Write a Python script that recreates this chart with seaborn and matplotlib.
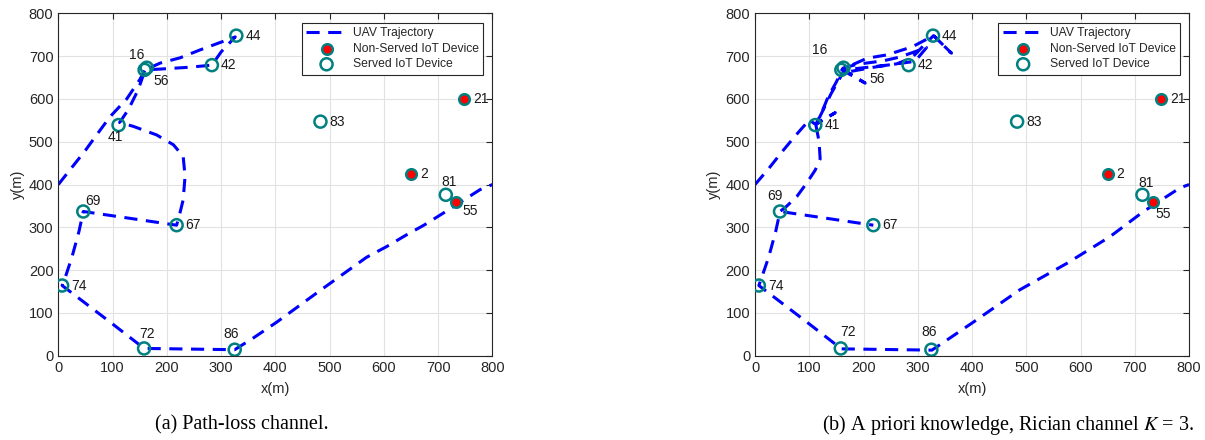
import numpy as np
import pandas as pd
import matplotlib
matplotlib.use("Agg")
import matplotlib.pyplot as plt
import seaborn as sns

# ---- IoT device positions (metres) ----
device_ids = [44, 42, 16, 56, 41, 83, 21, 2, 81, 55, 69, 67, 74, 72, 86]
device_x = [328, 283, 163, 159, 111, 483, 748, 650, 714, 733, 46, 218, 7, 158, 325]
device_y = [748, 679, 673, 668, 539, 547, 600, 424, 376, 360, 337, 305, 164, 17, 14]
device_served = [True, True, True, True, True, True, False, False, True, False,
                 True, True, True, True, True]

# ---- UAV trajectory, path-loss channel ----
traj_a_x = [0, 25, 50, 70, 95, 126, 150, 160, 190, 240, 283, 300, 326, 262, 224,
            188, 160, 147, 129, 113, 138, 181, 212, 230, 233, 233, 230, 224, 218,
            46, 38, 25, 12, 7, 95, 150, 158, 325, 360, 402, 482, 568, 605, 641,
            675, 709, 777, 800]
traj_a_y = [400, 440, 480, 515, 558, 600, 645, 668, 670, 674, 679, 710, 745, 715, 696,
            684, 668, 621, 575, 545, 536, 516, 493, 466, 427, 411, 364, 333, 305,
            337, 290, 230, 180, 164, 79, 25, 17, 14, 42, 78, 152, 230, 255, 282,
            306, 333, 388, 400]
traj_a_leg = [0] * len(traj_a_x)

# ---- UAV trajectory, a priori knowledge, Rician channel K = 3 ----
traj_b_x = [0, 25, 50, 75, 100, 112, 148, 113, 125, 135, 150, 160, 203, 162, 206,
            243, 290, 329, 362, 329, 313, 289, 261, 218, 175, 162, 188, 236, 267,
            316, 295, 250, 165, 140, 120, 112, 118, 120, 111, 95, 77, 58, 46,
            38, 25, 15, 7, 95, 150, 159, 326, 360, 403, 488, 575, 654, 716,
            783, 800,
            52, 218]
traj_b_y = [400, 437, 477, 515, 551, 540, 568, 543, 575, 606, 640, 668, 637, 670, 695,
            703, 722, 748, 707, 748, 728, 696, 682, 674, 664, 672, 681, 689, 698,
            720, 688, 680, 668, 612, 560, 540, 500, 460, 434, 403, 372, 349, 337,
            290, 230, 193, 164, 79, 25, 16, 13, 42, 79, 154, 216, 278, 337,
            392, 400,
            336, 305]
traj_b_leg = [0] * 59 + [1, 1]

tick_values = [0, 100, 200, 300, 400, 500, 600, 700, 800]
captions = ["(a) Path-loss channel.",
            "(b) A priori knowledge, Rician channel $K$ = 3."]

# label placement around each device marker: (ha, dx px, dy px)
label_pos_a = {16: ("center", -10, 13), 56: ("center", 17, -11),
               41: ("center", -3, -12), 69: ("center", 10, 10),
               72: ("center", 3, 14), 86: ("center", -4, 16),
               81: ("center", 3, 13), 55: ("center", 14, -9)}
label_pos_b = {16: ("center", -24, 18), 56: ("center", 36, -9),
               69: ("center", -5, 15), 72: ("center", 7, 16),
               86: ("center", -2, 18), 81: ("center", 4, 12),
               55: ("center", 10, -12)}

sns.set_style("whitegrid")
plt.rcParams["font.family"] = ["Liberation Sans", "DejaVu Sans"]
plt.rcParams["mathtext.fontset"] = "stix"

TEAL = "#008080"
DARK = "#262626"

devices = pd.DataFrame({"id": device_ids, "x": device_x, "y": device_y,
                        "served": device_served})

fig = plt.figure(figsize=(12.05, 4.4), dpi=100)
ax_a = fig.add_axes([0.0484, 0.1916, 0.3603, 0.778])
ax_b = fig.add_axes([0.6266, 0.1916, 0.3602, 0.778])


def draw_panel(ax, tx, ty, tleg, label_pos):
    traj = pd.DataFrame({"x": tx, "y": ty, "leg": tleg})
    sns.lineplot(data=traj, x="x", y="y", units="leg", sort=False, estimator=None,
                 ax=ax, color="#0000ff", linewidth=2.2, label="UAV Trajectory",
                 zorder=2)
    for ln in ax.lines:
        ln.set_dashes([4.3, 2.8])

    non = devices[~devices["served"]]
    srv = devices[devices["served"]]
    sns.scatterplot(data=non, x="x", y="y", ax=ax, marker="o", s=58,
                    color="red", facecolor="red", edgecolor=TEAL, linewidth=1.8,
                    label="Non-Served IoT Device", zorder=3)
    sns.scatterplot(data=srv, x="x", y="y", ax=ax, marker="o", s=75,
                    color=TEAL, facecolor="none", edgecolor=TEAL, linewidth=1.8,
                    label="Served IoT Device", zorder=3)

    for did, x, y in zip(device_ids, device_x, device_y):
        ha, dx, dy = label_pos.get(did, ("left", 9, 0))
        ax.annotate(str(did), (x, y), xytext=(dx, dy), textcoords="offset pixels",
                    ha=ha, va="center", fontsize=10, color="#1a1a1a", zorder=4)

    ax.set_xlim(0, 800)
    ax.set_ylim(0, 800)
    ax.set_xticks(tick_values)
    ax.set_yticks(tick_values)
    ax.grid(True, color="#e2e2e2", linewidth=0.8)
    ax.set_axisbelow(True)
    for sp in ax.spines.values():
        sp.set_visible(True)
        sp.set_color(DARK)
        sp.set_linewidth(0.8)
    ax.tick_params(direction="in", length=4, width=0.8, top=True, right=True,
                   colors=DARK, labelsize=10.5, labelcolor=DARK)
    ax.set_xlabel("x(m)", fontsize=10.5, color=DARK, labelpad=5)
    ax.set_ylabel("y(m)", fontsize=10.5, color=DARK, labelpad=3)

    handles, labels = ax.get_legend_handles_labels()
    uniq = {}
    for h, l in zip(handles, labels):
        uniq.setdefault(l, h)
    leg = ax.legend(list(uniq.values()), list(uniq.keys()), loc="upper right",
                    bbox_to_anchor=(0.979, 0.972),
                    borderaxespad=0, fontsize=8.7, frameon=True, fancybox=False,
                    framealpha=1, edgecolor=DARK, handlelength=3.4,
                    handletextpad=0.5, borderpad=0.35, labelspacing=0.3,
                    scatterpoints=1)
    leg.get_frame().set_linewidth(0.8)
    for t in leg.get_texts():
        t.set_color(DARK)


draw_panel(ax_a, traj_a_x, traj_a_y, traj_a_leg, label_pos_a)
draw_panel(ax_b, traj_b_x, traj_b_y, traj_b_leg, label_pos_b)

fig.text(242 / 1205, 0.034, captions[0], ha="center", va="center",
         fontsize=14.5, family="Liberation Serif", color="black")
fig.text(1008 / 1205, 0.034, captions[1], ha="center", va="center",
         fontsize=14.5, family="Liberation Serif", color="black")

fig.savefig("out.png", dpi=100)
